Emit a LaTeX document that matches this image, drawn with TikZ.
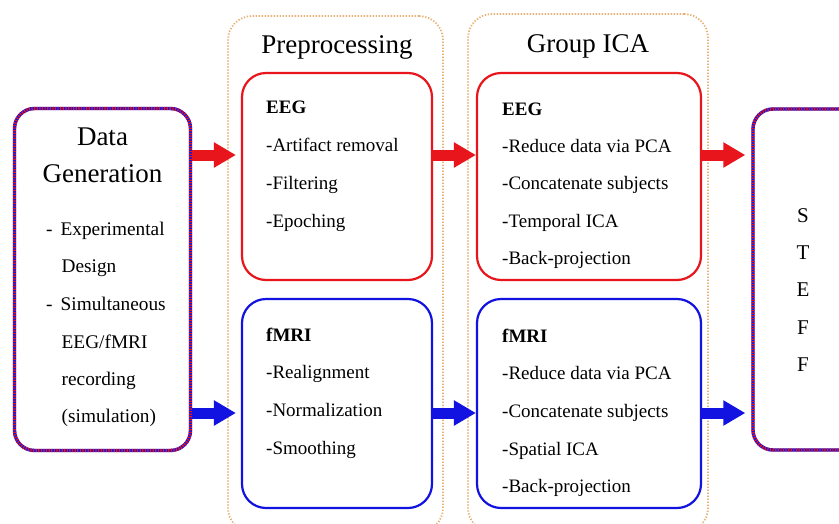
\documentclass[tikz,border=0pt]{standalone}
\usepackage{fontspec}
\setmainfont{Liberation Serif}
\usetikzlibrary{arrows.meta}
\definecolor{bred}{RGB}{232,22,28}
\definecolor{bblue}{RGB}{18,18,225}
\definecolor{dotc}{RGB}{232,178,118}
\tikzset{
  stripebox/.style={draw=bblue, line width=3.4pt, rounded corners=20pt,
    postaction={draw=bred, line width=3.4pt, dash pattern=on 1.2pt off 1.4pt}},
  redbox/.style={draw=bred, line width=2.2pt, rounded corners=24pt},
  bluebox/.style={draw=bblue, line width=2.2pt, rounded corners=24pt},
  container/.style={draw=dotc, line width=1.8pt, dash pattern=on 1.3pt off 1.7pt, rounded corners=24pt},
  title/.style={font=\fontsize{27}{30}\selectfont, anchor=base},
  item/.style={font=\fontsize{19}{22}\selectfont, anchor=base west, inner sep=0pt},
  head/.style={font=\fontsize{19}{22}\selectfont\bfseries, anchor=base west, inner sep=0pt},
  dgitem/.style={font=\fontsize{19.3}{22}\selectfont, anchor=base west, inner sep=0pt},
  letter/.style={font=\fontsize{21}{22}\selectfont, anchor=base, inner sep=0pt},
  redarrow/.style={draw=bred, line width=11pt, -{Triangle[length=22pt 0 1, width=24pt 0 1]}},
  bluearrow/.style={draw=bblue, line width=11pt, -{Triangle[length=22pt 0 1, width=24pt 0 1]}},
}
\begin{document}
\begin{tikzpicture}[x=1pt,y=-1pt]
\useasboundingbox (0,0) rectangle (839,523);
\fill[white] (0,0) rectangle (839,523);
% containers
\node[container, minimum width=215pt, minimum height=516pt] (cpre) at (335.5,274) {};
\node[container, minimum width=240pt, minimum height=518pt] (cgica) at (588,273) {};
\node[title] (tpre) at (337,53) {Preprocessing};
\node[title] (tgica) at (588,52) {Group ICA};
% boxes
\node[stripebox, minimum width=176pt, minimum height=342pt] (dg) at (102.5,279.5) {};
\node[redbox, minimum width=190pt, minimum height=207pt] (pe) at (337,176.5) {};
\node[bluebox, minimum width=190pt, minimum height=209pt] (pf) at (337,403.5) {};
\node[redbox, minimum width=224pt, minimum height=207pt] (ge) at (589,176.5) {};
\node[bluebox, minimum width=224pt, minimum height=209pt] (gf) at (589,403.5) {};
\node[stripebox, minimum width=176pt, minimum height=341pt] (st) at (841,279.5) {};
% data generation text
\node[title] (dg1) at (102.5,145) {Data};
\node[title] (dg2) at (102.5,182) {Generation};
\node[dgitem] (dg3) at (46,235) {- \,Experimental};
\node[dgitem] (dg4) at (61.5,272) {Design};
\node[dgitem] (dg5) at (46,310) {- \,Simultaneous};
\node[dgitem] (dg6) at (61.5,348) {EEG/fMRI};
\node[dgitem] (dg7) at (61.5,385) {recording};
\node[dgitem] (dg8) at (61.5,422) {(simulation)};
% preprocessing EEG
\node[head] (pe0) at (266,113) {EEG};
\node[item] (pe1) at (266,151) {-Artifact removal};
\node[item] (pe2) at (266,189) {-Filtering};
\node[item] (pe3) at (266,227) {-Epoching};
% preprocessing fMRI
\node[head] (pf0) at (266,341) {fMRI};
\node[item] (pf1) at (266,378) {-Realignment};
\node[item] (pf2) at (266,416) {-Normalization};
\node[item] (pf3) at (266,454) {-Smoothing};
% group ICA EEG
\node[head] (ge0) at (502,115) {EEG};
\node[item] (ge1) at (502,152) {-Reduce data via PCA};
\node[item] (ge2) at (502,189.5) {-Concatenate subjects};
\node[item] (ge3) at (502,227) {-Temporal ICA};
\node[item] (ge4) at (502,264.5) {-Back-projection};
% group ICA fMRI
\node[head] (gf0) at (502,342) {fMRI};
\node[item] (gf1) at (502,379) {-Reduce data via PCA};
\node[item] (gf2) at (502,417) {-Concatenate subjects};
\node[item] (gf3) at (502,455) {-Spatial ICA};
\node[item] (gf4) at (502,492) {-Back-projection};
% STEFF
\node[letter] (s1) at (803,222) {S};
\node[letter] (s2) at (803,259) {T};
\node[letter] (s3) at (803,296.5) {E};
\node[letter] (s4) at (803,334) {F};
\node[letter] (s5) at (803,371.5) {F};
% arrows
\coordinate (ry) at (0,155);
\coordinate (by) at (0,413);
\draw[redarrow] (dg.east |- ry) -- ([xshift=-5pt]pe.west |- ry);
\draw[redarrow] (pe.east |- ry) -- (ge.west |- ry);
\draw[redarrow] (ge.east |- ry) -- ([xshift=-6pt]st.west |- ry);
\draw[bluearrow] (dg.east |- by) -- ([xshift=-5pt]pf.west |- by);
\draw[bluearrow] (pf.east |- by) -- (gf.west |- by);
\draw[bluearrow] (gf.east |- by) -- ([xshift=-6pt]st.west |- by);
\end{tikzpicture}
\end{document}
